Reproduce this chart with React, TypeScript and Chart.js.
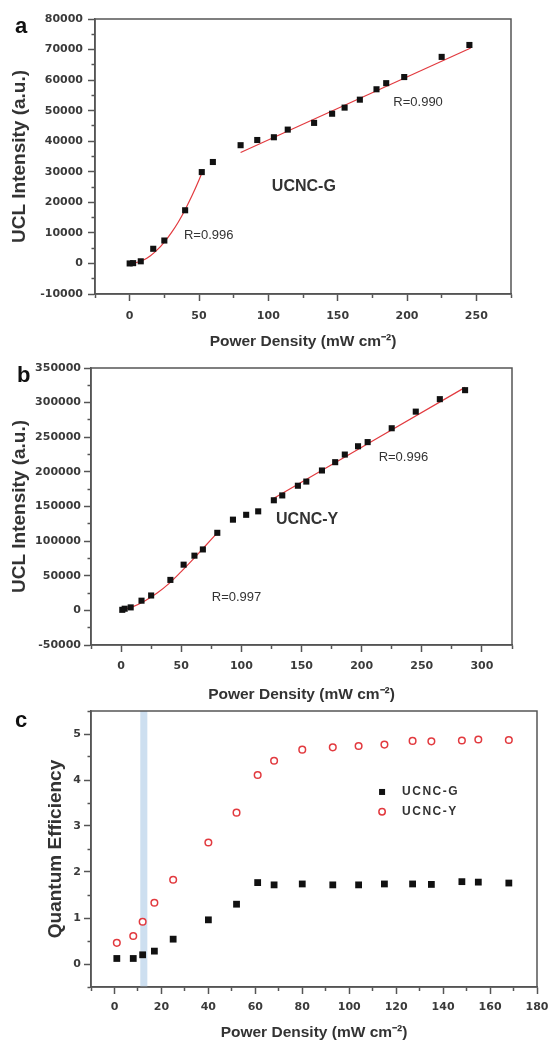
import React, { useEffect, useRef } from "react";
import { Chart, registerables } from "chart.js";

Chart.register(...registerables);

// ---------------- Panel a : UCNC-G ----------------
const aPower = [0, 2.5, 8, 17, 25, 40, 52, 60, 80, 92, 104, 114, 133, 146, 155, 166, 178, 185, 198, 225, 245];
const aIntensity = [0, 100, 700, 4800, 7500, 17400, 29900, 33200, 38700, 40400, 41300, 43800, 46000, 49000, 51000, 53600, 57000, 59000, 61000, 67600, 71500];
const aFitLowPower = [0, 5, 10, 15, 20, 25, 30, 35, 40, 45, 50, 52];
const aFitLowIntensity = [0, 300, 1100, 2500, 4500, 7000, 10000, 13500, 17600, 22200, 27300, 29500];
const aFitHighPower = [80, 246];
const aFitHighIntensity = [36300, 70500];
const aXLabels = [0, 50, 100, 150, 200, 250];
const aYLabels = [-10000, 0, 10000, 20000, 30000, 40000, 50000, 60000, 70000, 80000];

// ---------------- Panel b : UCNC-Y ----------------
const bPower = [1, 3, 8, 17, 25, 41, 52, 61, 68, 80, 93, 104, 114, 127, 134, 147, 154, 167, 178, 186, 197, 205, 225, 245, 265, 286];
const bIntensity = [800, 2400, 4300, 14000, 21500, 44000, 66000, 79000, 88000, 112000, 131000, 138000, 143000, 159000, 166000, 180000, 186000, 202000, 214000, 225000, 237000, 243000, 263000, 287000, 305000, 318000];
const bFitLowPower = [0, 10, 20, 30, 40, 50, 60, 70, 80];
const bFitLowIntensity = [500, 5500, 14000, 25000, 39000, 56000, 74000, 93000, 112000];
const bFitHighPower = [127, 286];
const bFitHighIntensity = [162000, 322000];
const bXLabels = [0, 50, 100, 150, 200, 250, 300];
const bYLabels = [-50000, 0, 50000, 100000, 150000, 200000, 250000, 300000, 350000];

// ---------------- Panel c : quantum efficiency ----------------
const cPower = [1, 8, 12, 17, 25, 40, 52, 61, 68, 80, 93, 104, 115, 127, 135, 148, 155, 168];
const cQEG = [0.12, 0.12, 0.2, 0.28, 0.54, 0.96, 1.3, 1.77, 1.72, 1.74, 1.72, 1.72, 1.74, 1.74, 1.73, 1.79, 1.78, 1.76];
const cQEY = [0.46, 0.61, 0.92, 1.33, 1.83, 2.64, 3.29, 4.11, 4.42, 4.66, 4.71, 4.74, 4.77, 4.85, 4.84, 4.86, 4.88, 4.87];
const cBand = [11, 14];
const cXLabels = [0, 20, 40, 60, 80, 100, 120, 140, 160, 180];
const cYLabels = [0, 1, 2, 3, 4, 5];

const AXIS = "#555";
const TEXT = "#333";
const RED = "#e23a3f";
const SANS = "'Liberation Sans', Arial, sans-serif";

const pts = (xs: number[], ys: number[]) => xs.map((x, i) => ({ x, y: ys[i] }));

function axis(o: any) {
  const isY = o.pos === "left";
  const isMaj = (v: number) => o.labels.some((l: number) => Math.abs(l - v) < 1e-6);
  return {
    type: "linear",
    position: o.pos,
    min: o.min,
    max: o.max,
    afterFit: (s: any) => {
      if (isY) s.width = o.size;
      else s.height = o.size;
      s.paddingLeft = 0;
      s.paddingRight = 0;
      s.paddingTop = 0;
      s.paddingBottom = 0;
    },
    ticks: {
      stepSize: o.step,
      autoSkip: false,
      maxRotation: 0,
      minRotation: 0,
      padding: o.labelPad,
      color: "#3a3a3a",
      font: { family: "'DejaVu Sans'", weight: "bold", size: 11 },
      callback: (v: any) => (isMaj(Number(v)) ? String(v) : ""),
    },
    grid: {
      display: true,
      drawOnChartArea: false,
      drawTicks: true,
      tickLength: 7,
      tickColor: AXIS,
      tickWidth: 1.5,
      tickBorderDash: (c: any) => (c.tick && !isMaj(c.tick.value) ? [3.5, 3.5] : []),
      tickBorderDashOffset: (c: any) => (c.tick && !isMaj(c.tick.value) && isY ? 3.5 : 0),
    },
    border: { display: true, color: AXIS, width: 1.5 },
    title: {
      display: true,
      text: o.title,
      color: TEXT,
      font: { family: SANS, weight: "bold", size: o.titleSize, lineHeight: 1 },
      padding: isY ? { top: o.titlePad, bottom: 0 } : { top: 0, bottom: o.titlePad },
    },
  };
}

const overlayPlugin = {
  id: "overlay",
  beforeDatasetsDraw(chart: any, _a: any, opts: any) {
    const { ctx, chartArea, scales } = chart;
    if (opts.band) {
      const x1 = scales.x.getPixelForValue(opts.band[0]);
      const x2 = scales.x.getPixelForValue(opts.band[1]);
      ctx.save();
      ctx.fillStyle = "#cddff0";
      ctx.fillRect(x1, chartArea.top, x2 - x1, chartArea.bottom - chartArea.top);
      ctx.restore();
    }
  },
  afterDraw(chart: any, _a: any, opts: any) {
    const { ctx, chartArea, scales } = chart;
    ctx.save();
    ctx.strokeStyle = AXIS;
    ctx.lineWidth = 1.5;
    ctx.strokeRect(chartArea.left, chartArea.top, chartArea.right - chartArea.left, chartArea.bottom - chartArea.top);
    if (opts.letter) {
      ctx.fillStyle = "#111";
      ctx.font = `bold 22px ${SANS}`;
      ctx.textAlign = "left";
      ctx.textBaseline = "alphabetic";
      ctx.fillText(opts.letter.text, opts.letter.px, opts.letter.py);
    }
    for (const a of opts.notes || []) {
      ctx.fillStyle = TEXT;
      ctx.font = a.font;
      ctx.textAlign = "center";
      ctx.textBaseline = "middle";
      ctx.fillText(a.text, scales.x.getPixelForValue(a.x), scales.y.getPixelForValue(a.y));
    }
    for (const l of opts.legend || []) {
      const mx = scales.x.getPixelForValue(l.x);
      const my = scales.y.getPixelForValue(l.y);
      if (l.shape === "rect") {
        ctx.fillStyle = "#111";
        ctx.fillRect(mx - 3, my - 3, 6, 6);
      } else {
        ctx.beginPath();
        ctx.arc(mx, my, 3.2, 0, Math.PI * 2);
        ctx.fillStyle = "#fff";
        ctx.fill();
        ctx.strokeStyle = RED;
        ctx.lineWidth = 1.5;
        ctx.stroke();
      }
      ctx.fillStyle = TEXT;
      ctx.font = `bold 12px ${SANS}`;
      (ctx as any).letterSpacing = "1.5px";
      ctx.textAlign = "left";
      ctx.textBaseline = "middle";
      ctx.fillText(l.text, mx + 20, my);
      (ctx as any).letterSpacing = "0px";
    }
    ctx.restore();
  },
};

const squares = (data: any, r = 4.3) => ({
  data,
  pointStyle: "rect",
  pointRadius: r,
  backgroundColor: "#111",
  borderColor: "#111",
  borderWidth: 0,
  showLine: false,
});
const fitLine = (data: any) => ({
  data,
  showLine: true,
  pointRadius: 0,
  borderColor: RED,
  borderWidth: 1.2,
  cubicInterpolationMode: "monotone",
  fill: false,
});

const baseOptions = (padTop: number, padRight: number, scales: any, overlay: any) => ({
  animation: false,
  responsive: false,
  devicePixelRatio: 1,
  events: [],
  layout: { padding: { top: padTop, right: padRight, left: 0, bottom: 0 } },
  scales,
  plugins: { legend: { display: false }, tooltip: { enabled: false }, overlay },
});

const X_TITLE = "Power Density (mW cm\u207B\u00B2)";

function configA() {
  return {
    type: "scatter",
    data: {
      datasets: [
        squares(pts(aPower, aIntensity)),
        fitLine(pts(aFitLowPower, aFitLowIntensity)),
        fitLine(pts(aFitHighPower, aFitHighIntensity)),
      ],
    },
    options: baseOptions(
      19,
      37,
      {
        x: axis({ pos: "bottom", min: -25, max: 275, step: 25, labels: aXLabels, size: 56, labelPad: 9, title: X_TITLE, titleSize: 15.5, titlePad: 0.7 }),
        y: axis({ pos: "left", min: -10000, max: 80000, step: 5000, labels: aYLabels, size: 95, labelPad: 5, title: "UCL Intensity (a.u.)", titleSize: 19, titlePad: 10 }),
      },
      {
        letter: { text: "a", px: 15, py: 33 },
        notes: [
          { text: "R=0.990", x: 208, y: 52600, font: `13px ${SANS}` },
          { text: "UCNC-G", x: 125.6, y: 25300, font: `bold 16px ${SANS}` },
          { text: "R=0.996", x: 57, y: 9300, font: `13px ${SANS}` },
        ],
      }
    ),
    plugins: [overlayPlugin],
  };
}

function configB() {
  return {
    type: "scatter",
    data: {
      datasets: [
        squares(pts(bPower, bIntensity)),
        fitLine(pts(bFitLowPower, bFitLowIntensity)),
        fitLine(pts(bFitHighPower, bFitHighIntensity)),
      ],
    },
    options: baseOptions(
      18,
      36,
      {
        x: axis({ pos: "bottom", min: -25, max: 325, step: 25, labels: bXLabels, size: 59, labelPad: 8, title: X_TITLE, titleSize: 15.5, titlePad: 1.7 }),
        y: axis({ pos: "left", min: -50000, max: 350000, step: 25000, labels: bYLabels, size: 91, labelPad: 3, title: "UCL Intensity (a.u.)", titleSize: 19, titlePad: 10 }),
      },
      {
        letter: { text: "b", px: 17, py: 32 },
        notes: [
          { text: "R=0.996", x: 234.7, y: 221100, font: `13px ${SANS}` },
          { text: "UCNC-Y", x: 154.7, y: 130500, font: `bold 16px ${SANS}` },
          { text: "R=0.997", x: 96, y: 18300, font: `13px ${SANS}` },
        ],
      }
    ),
    plugins: [overlayPlugin],
  };
}

function configC() {
  return {
    type: "scatter",
    data: {
      datasets: [
        squares(pts(cPower, cQEG), 4.8),
        {
          data: pts(cPower, cQEY),
          pointStyle: "circle",
          pointRadius: 3.3,
          borderWidth: 1.5,
          borderColor: RED,
          backgroundColor: "#fff",
          showLine: false,
        },
      ],
    },
    options: baseOptions(
      11,
      11,
      {
        x: axis({ pos: "bottom", min: -10, max: 180, step: 10, labels: cXLabels, size: 54, labelPad: 7, title: X_TITLE, titleSize: 15.5, titlePad: 0.7 }),
        y: axis({ pos: "left", min: -0.5, max: 5.5, step: 0.5, labels: cYLabels, size: 91, labelPad: 3, title: "Quantum Efficiency", titleSize: 19, titlePad: 46 }),
      },
      {
        band: cBand,
        letter: { text: "c", px: 15, py: 27 },
        legend: [
          { text: "UCNC-G", x: 114, y: 3.74, shape: "rect" },
          { text: "UCNC-Y", x: 114, y: 3.31, shape: "circle" },
        ],
      }
    ),
    plugins: [overlayPlugin],
  };
}

function Panel({ top, height, make }: { top: number; height: number; make: () => any }) {
  const ref = useRef<HTMLCanvasElement>(null);
  useEffect(() => {
    const chart = new Chart(ref.current as HTMLCanvasElement, make());
    return () => chart.destroy();
  }, []);
  return (
    <canvas
      ref={ref}
      width={548}
      height={height}
      style={{ position: "absolute", left: 0, top, width: 548, height, display: "block" }}
    />
  );
}

export default function App() {
  return (
    <div style={{ position: "absolute", left: 0, top: 0, width: 548, height: 1041, background: "#fff", overflow: "hidden" }}>
      <Panel top={0} height={350} make={configA} />
      <Panel top={350} height={354} make={configB} />
      <Panel top={700} height={341} make={configC} />
    </div>
  );
}
